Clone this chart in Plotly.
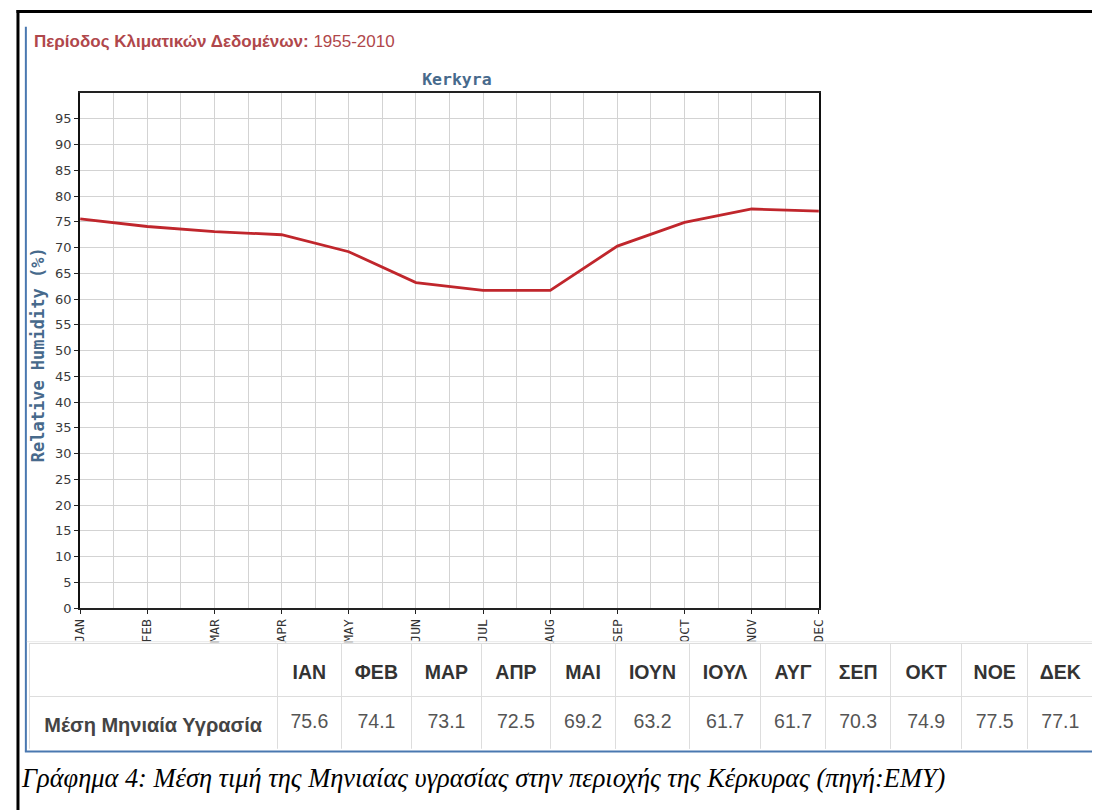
import plotly.graph_objects as go

# ---------------- data ----------------
months_en = ["JAN", "FEB", "MAR", "APR", "MAY", "JUN", "JUL", "AUG", "SEP", "OCT", "NOV", "DEC"]
months_gr = ["ΙΑΝ", "ΦΕΒ", "ΜΑΡ", "ΑΠΡ", "ΜΑΙ", "ΙΟΥΝ", "ΙΟΥΛ", "ΑΥΓ", "ΣΕΠ", "ΟΚΤ", "ΝΟΕ", "ΔΕΚ"]
humidity = [75.6, 74.1, 73.1, 72.5, 69.2, 63.2, 61.7, 61.7, 70.3, 74.9, 77.5, 77.1]
y_ticks = list(range(0, 100, 5))
row_label = "Μέση Μηνιαία Υγρασία"
chart_title = "Kerkyra"
y_title = "Relative Humidity (%)"
period_label = "Περίοδος Κλιματικών Δεδομένων:"
period_value = "1955-2010"
caption = "Γράφημα 4: Μέση τιμή της Μηνιαίας υγρασίας στην περιοχής της Κέρκυρας (πηγή:ΕΜΥ)"

# ---------------- layout helpers ----------------
W, H = 1100, 810
OFF = 8  # page body margin


def px(x):
    return (x - OFF) / W


def py(y):
    return 1 - (y - OFF) / H


month_idx = list(range(len(months_en)))
col_widths = [251, 65, 71, 71, 70, 66, 75, 72, 66, 66, 72, 67, 66]
n_cols = len(col_widths)
TEXT_SHIFT = 9  # px, pushes table text to vertical centre of cells

fig = go.Figure()

fig.add_trace(go.Scatter(
    x=month_idx, y=humidity, mode="lines",
    line=dict(color="#c0262c", width=2.8),
    showlegend=False, hoverinfo="x+y",
))

# table grid (borders)
fig.add_trace(go.Table(
    domain=dict(x=[px(22), px(1100)], y=[py(757), py(650)]),
    columnwidth=col_widths,
    header=dict(values=[""] * n_cols, height=53,
                fill_color="white", line=dict(color="#dddddd", width=1)),
    cells=dict(values=[[""]] * n_cols, height=54,
               fill_color="white", line=dict(color="#dddddd", width=1)),
))

# table text
fig.add_trace(go.Table(
    domain=dict(x=[px(22), px(1100)], y=[py(757 + TEXT_SHIFT), py(650 + TEXT_SHIFT)]),
    columnwidth=col_widths,
    header=dict(
        values=[""] + ["<b>%s</b>" % m for m in months_gr],
        height=53, align="center",
        font=dict(family="Liberation Sans, Arial", size=19.5, color="#333333"),
        fill_color="rgba(0,0,0,0)", line=dict(color="rgba(0,0,0,0)", width=0),
    ),
    cells=dict(
        values=[["<b>%s</b>" % row_label]] + [["%.1f" % v] for v in humidity],
        height=54, align="center",
        font=dict(family="Liberation Sans, Arial", size=[20] + [19.5] * len(humidity),
                  color=["#444444"] + ["#555555"] * len(humidity)),
        fill_color="rgba(0,0,0,0)", line=dict(color="rgba(0,0,0,0)", width=0),
    ),
))

grid_col = "#d3d3d3"

fig.update_layout(
    width=W, height=H,
    margin=dict(l=0, r=0, t=0, b=0),
    paper_bgcolor="white", plot_bgcolor="white",
    showlegend=False,
    title=dict(
        text=chart_title, x=px(455), y=py(80), xref="paper", yref="paper",
        xanchor="center", yanchor="middle",
        font=dict(family="DejaVu Sans Mono", size=16.5, color="#476a8c", weight="bold"),
    ),
    xaxis=dict(
        domain=[px(73), px(822)], range=[0, len(months_en) - 1],
        tickmode="array", tickvals=month_idx, ticktext=months_en,
        tickangle=-90,
        tickfont=dict(family="DejaVu Sans Mono", size=13, color="#333333"),
        ticks="outside", ticklen=4, tickcolor="#222222", tickwidth=1,
        showgrid=True, gridcolor=grid_col, gridwidth=1,
        minor=dict(tickmode="linear", tick0=0, dtick=0.5, showgrid=True,
                   gridcolor=grid_col, gridwidth=1, ticks=""),
        showline=True, linecolor="#222222", linewidth=2, mirror=True,
        zeroline=False, fixedrange=True,
    ),
    yaxis=dict(
        domain=[py(614), py(94)], range=[0, 100],
        tickmode="array", tickvals=y_ticks,
        tickfont=dict(family="DejaVu Sans", size=13, color="#3a3a3a"),
        ticks="outside", ticklen=4, tickcolor="#222222", tickwidth=1,
        showgrid=True, gridcolor=grid_col, gridwidth=1,
        showline=True, linecolor="#111111", linewidth=2, mirror=True,
        zeroline=False, fixedrange=True,
    ),
)

# texts
fig.add_annotation(
    text="<b>%s</b> %s" % (period_label, period_value),
    x=px(24), y=py(42), xref="paper", yref="paper",
    xanchor="left", yanchor="middle", showarrow=False,
    font=dict(family="Liberation Sans, Arial", size=17, color="#b0474b"),
)
fig.add_annotation(
    text=y_title, textangle=-90,
    x=px(30), y=py(358), xref="paper", yref="paper",
    xanchor="center", yanchor="middle", showarrow=False,
    font=dict(family="DejaVu Sans Mono", size=17, color="#476a8c", weight="bold"),
)
fig.add_annotation(
    text="<i>%s</i>" % caption,
    x=px(11), y=py(786), xref="paper", yref="paper",
    xanchor="left", yanchor="middle", showarrow=False,
    font=dict(family="Liberation Serif, Times New Roman", size=26.4, color="#000000"),
)

# frame / decorations
shapes = [
    dict(type="line", x0=px(8.5), x1=px(1110), y0=py(11.5), y1=py(11.5),
         line=dict(color="#000000", width=3)),
    dict(type="line", x0=px(10), x1=px(10), y0=py(10), y1=py(820),
         line=dict(color="#000000", width=3)),
    dict(type="line", x0=px(18), x1=px(18), y0=py(27), y1=py(759),
         line=dict(color="#4a78b0", width=2)),
    dict(type="line", x0=px(17), x1=px(1110), y0=py(759), y1=py(759),
         line=dict(color="#4a78b0", width=2)),
    dict(type="line", x0=px(19), x1=px(1110), y0=py(648), y1=py(648),
         line=dict(color="#e8e8e8", width=1)),
]
for s in shapes:
    s.update(xref="paper", yref="paper")
    fig.add_shape(**s)

fig.write_html("out.html")
